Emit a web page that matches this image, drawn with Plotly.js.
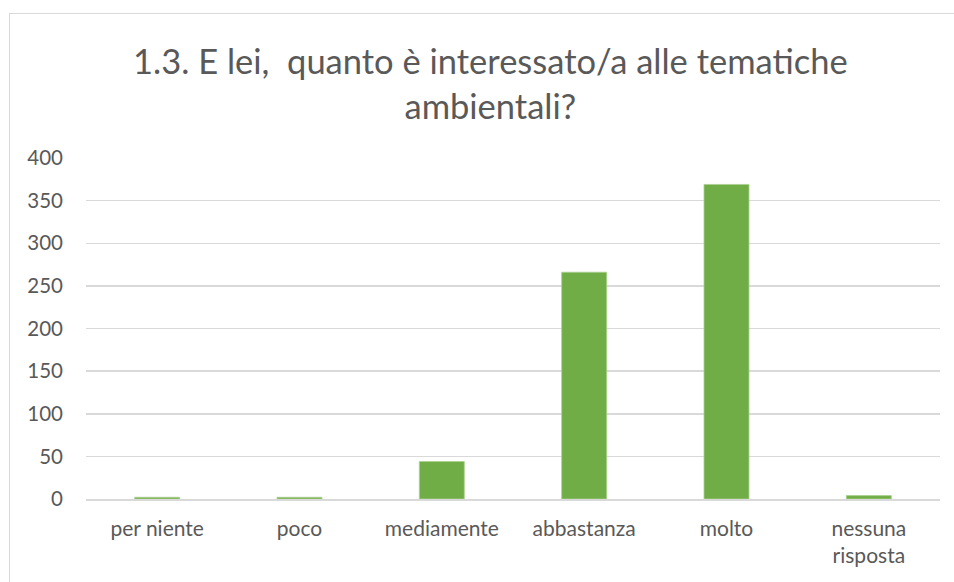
<!DOCTYPE html>
<html><head><meta charset="utf-8">
<script src="https://cdn.plot.ly/plotly-3.0.1.min.js"></script>
<style>
html,body{margin:0;padding:0;background:#fff;}
#wrap{position:relative;width:954px;height:582px;overflow:hidden;}
#frame{position:absolute;left:9px;top:13px;width:960px;height:600px;border:1px solid #d9d9d9;box-sizing:border-box;pointer-events:none;}
#chart{position:absolute;left:0;top:0;width:954px;height:582px;}
</style></head>
<body><div id="wrap"><div id="chart"></div><div id="frame"></div></div>
<script>
const categories = ["per niente", "poco", "mediamente", "abbastanza", "molto", "nessuna<br>risposta"];
const values = [2, 2, 44, 266, 369, 4];
const yTicks = [0, 50, 100, 150, 200, 250, 300, 350, 400];

const trace = {
  type: 'bar', x: categories, y: values,
  marker: {color: '#70AD47', line: {color: '#A9D18E', width: 0.8}},
  hoverinfo: 'none'
};
const layout = {
  width: 954, height: 582,
  margin: {l: 86, r: 14, t: 158, b: 83},
  paper_bgcolor: '#fff', plot_bgcolor: '#fff',
  font: {family: 'Lato, "Open Sans", sans-serif', color: '#595959', size: 21},
  title: {text: '1.3. E lei,  quanto è interessato/a alle tematiche<br>ambientali?',
          font: {size: 34.5, color: '#595959', family: 'Lato, sans-serif'},
          x: 0.514, xanchor: 'center', y: 0.872, yanchor: 'top'},
  bargap: 0.684,
  showlegend: false,
  xaxis: {showgrid: false, showline: true, linecolor: '#d9d9d9', linewidth: 1.5,
          ticks: '', ticklabelstandoff: 10, tickfont: {size: 21, color: '#595959'}, fixedrange: true},
  yaxis: {range: [0, 400], tickvals: yTicks, showgrid: true, gridcolor: '#d9d9d9', gridwidth: 1.5,
          zeroline: false, showline: false, ticks: '', ticklabelstandoff: 22,
          tickfont: {size: 20.5, color: '#595959'}, fixedrange: true}
};
Plotly.newPlot('chart', [trace], layout, {displayModeBar: false, staticPlot: true});
</script></body></html>
